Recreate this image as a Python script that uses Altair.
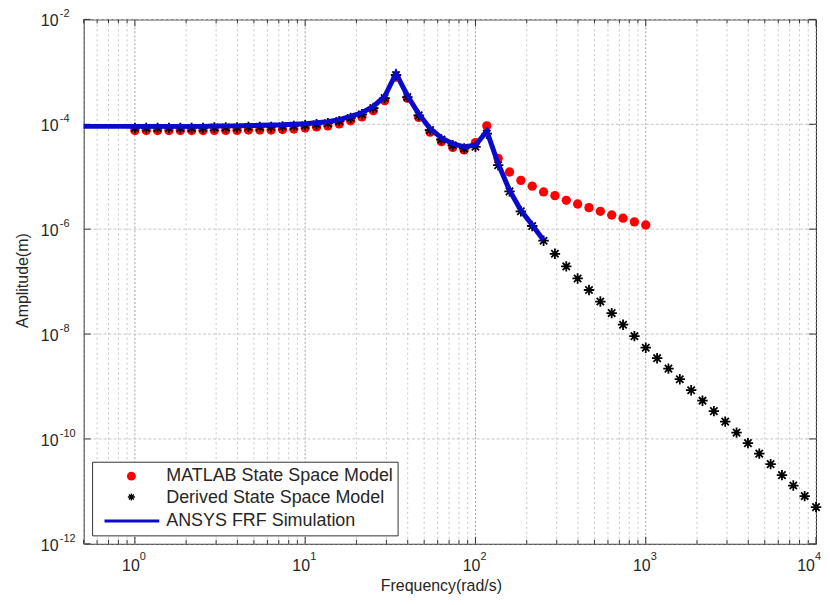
import altair as alt
import pandas as pd

# ---------------- data ----------------
freq = [1.0, 1.166, 1.359, 1.585, 1.848, 2.154, 2.512, 2.929, 3.415, 3.981,
        4.642, 5.412, 6.310, 7.356, 8.577, 10.0, 11.66, 13.59, 15.85, 18.48,
        21.54, 25.12, 29.29, 34.15, 39.81, 46.42, 54.12, 63.10, 73.56, 85.77,
        100.0, 116.6, 135.9, 158.5, 184.8, 215.4, 251.2, 292.9, 341.5, 398.1,
        464.2, 541.2, 631.0, 735.6, 857.7, 1000.0, 1166.0, 1359.0, 1585.0, 1848.0,
        2154.0, 2512.0, 2929.0, 3415.0, 3981.0, 4642.0, 5412.0, 6310.0, 7356.0, 8577.0,
        10000.0]

matlab_amp = [7.59e-5, 7.59e-5, 7.59e-5, 7.59e-5, 7.59e-5, 7.59e-5, 7.59e-5, 7.67e-5, 7.67e-5, 7.67e-5,
              7.76e-5, 7.76e-5, 7.76e-5, 7.94e-5, 8.13e-5, 8.51e-5, 8.91e-5, 9.33e-5, 1.02e-4, 1.17e-4,
              1.38e-4, 1.82e-4, 2.82e-4, 7.94e-4, 3.16e-4, 1.35e-4, 7.08e-5, 4.68e-5, 3.63e-5, 3.24e-5,
              4.47e-5, 9.33e-5, 2.24e-5, 1.23e-5, 8.51e-6, 6.61e-6, 5.13e-6, 4.37e-6, 3.55e-6, 3.02e-6,
              2.57e-6, 2.19e-6, 1.86e-6, 1.62e-6, 1.38e-6, 1.20e-6]

derived_amp = [8.51e-5, 8.51e-5, 8.51e-5, 8.51e-5, 8.51e-5, 8.51e-5, 8.51e-5, 8.71e-5, 8.71e-5, 8.71e-5,
               8.91e-5, 8.91e-5, 8.91e-5, 9.12e-5, 9.33e-5, 9.55e-5, 1.00e-4, 1.05e-4, 1.15e-4, 1.32e-4,
               1.55e-4, 2.04e-4, 3.16e-4, 8.71e-4, 3.31e-4, 1.48e-4, 7.76e-5, 5.13e-5, 3.98e-5, 3.47e-5,
               3.72e-5, 6.61e-5, 1.66e-5, 5.25e-6, 2.19e-6, 1.15e-6, 6.03e-7, 3.39e-7, 1.95e-7, 1.15e-7,
               6.92e-8, 4.17e-8, 2.51e-8, 1.51e-8, 9.12e-9, 5.50e-9, 3.47e-9, 2.19e-9, 1.38e-9, 8.51e-10,
               5.37e-10, 3.39e-10, 2.14e-10, 1.32e-10, 8.32e-11, 5.25e-11, 3.31e-11, 2.04e-11, 1.29e-11, 8.13e-12,
               5.01e-12]

ansys_freq = [0.5] + freq[:37]
ansys_amp = [9.12e-5,
             9.12e-5, 9.12e-5, 9.12e-5, 9.12e-5, 9.12e-5, 9.12e-5, 9.12e-5, 9.23e-5, 9.33e-5, 9.33e-5,
             9.44e-5, 9.55e-5, 9.66e-5, 9.77e-5, 1.00e-4, 1.023e-4, 1.07e-4, 1.12e-4, 1.23e-4, 1.41e-4,
             1.66e-4, 2.19e-4, 3.39e-4, 9.33e-4, 3.55e-4, 1.58e-4, 8.32e-5, 5.50e-5, 4.27e-5, 3.72e-5,
             3.98e-5, 7.41e-5, 1.78e-5, 5.50e-6, 2.29e-6, 1.20e-6, 6.17e-7]

x_minor = [0.5, 0.6, 0.7, 0.8, 0.9,
           2, 3, 4, 5, 6, 7, 8, 9,
           20, 30, 40, 50, 60, 70, 80, 90,
           200, 300, 400, 500, 600, 700, 800, 900,
           2000, 3000, 4000, 5000, 6000, 7000, 8000, 9000]
x_major = [1, 10, 100, 1000, 10000]
x_major_exp = ["0", "1", "2", "3", "4"]
y_major = [1e-12, 1e-10, 1e-8, 1e-6, 1e-4, 1e-2]
y_major_exp = ["-12", "-10", "-8", "-6", "-4", "-2"]
legend_labels = ["MATLAB State Space Model", "Derived State Space Model", "ANSYS FRF Simulation"]

# ---------------- styling ----------------
W, H = 736, 527
FONT = "Liberation Sans"
TXT = "#262626"
RED = "#ff0000"
BLUE = "#0a0acc"
ASTER = "M-1,0L1,0M0,-1L0,1M-0.7,-0.7L0.7,0.7M-0.7,0.7L0.7,-0.7"

xscale = alt.Scale(type="log", domain=[0.5, 10000], nice=False)
yscale = alt.Scale(type="log", domain=[1e-12, 1e-2], nice=False)
xaxis = alt.Axis(title="Frequency(rad/s)", labels=False, ticks=False, grid=False, domain=False,
                 titleFont=FONT, titleFontSize=16, titleFontWeight="normal", titleColor=TXT,
                 titleX=359, titleY=42, titleAlign="center", titleBaseline="middle")
yaxis = alt.Axis(title="Amplitude(m)", labels=False, ticks=False, grid=False, domain=False,
                 titleFont=FONT, titleFontSize=16, titleFontWeight="normal", titleColor=TXT,
                 titleX=-61, titleY=262, titleAlign="center", titleBaseline="middle", titleAngle=270)


def xenc(field):
    return alt.X(f"{field}:Q", scale=xscale, axis=xaxis)


def yenc(field):
    return alt.Y(f"{field}:Q", scale=yscale, axis=yaxis)


df_red = pd.DataFrame({"f": freq[:len(matlab_amp)], "a": matlab_amp})
df_star = pd.DataFrame({"f": freq, "a": derived_amp})
df_blue = pd.DataFrame({"f": ansys_freq, "a": ansys_amp})
df_xminor = pd.DataFrame({"v": x_minor})
df_xmajor = pd.DataFrame({"v": x_major, "e": x_major_exp})
df_xlab_in = df_xmajor.iloc[:-1]
df_xlab_last = df_xmajor.iloc[-1:]
df_ymajor = pd.DataFrame({"v": y_major, "e": y_major_exp})
one = alt.Data(values=[{}])

# grid
grid_xminor = alt.Chart(df_xminor).mark_rule(color="#c6c6c6", strokeDash=[2, 3], strokeWidth=1).encode(
    x=xenc("v"), y=alt.value(0), y2=alt.value(H))
grid_xmajor = alt.Chart(df_xmajor).mark_rule(color="#a0a0a0", strokeDash=[2, 2], strokeWidth=1).encode(
    x=xenc("v"), y=alt.value(0), y2=alt.value(H))
grid_y = alt.Chart(df_ymajor).mark_rule(color="#c6c6c6", strokeDash=[3, 2], strokeWidth=1).encode(
    y=yenc("v"), x=alt.value(0), x2=alt.value(W))

# inward ticks
tick_color = "#333333"
ticks = [
    alt.Chart(df_xminor).mark_rule(color=tick_color).encode(x=xenc("v"), y=alt.value(H), y2=alt.value(H - 4)),
    alt.Chart(df_xminor).mark_rule(color=tick_color).encode(x=xenc("v"), y=alt.value(0), y2=alt.value(4)),
    alt.Chart(df_xmajor).mark_rule(color=tick_color).encode(x=xenc("v"), y=alt.value(H), y2=alt.value(H - 7)),
    alt.Chart(df_xmajor).mark_rule(color=tick_color).encode(x=xenc("v"), y=alt.value(0), y2=alt.value(7)),
    alt.Chart(df_ymajor).mark_rule(color=tick_color).encode(y=yenc("v"), x=alt.value(0), x2=alt.value(7)),
    alt.Chart(df_ymajor).mark_rule(color=tick_color).encode(y=yenc("v"), x=alt.value(W), x2=alt.value(W - 7)),
]

# data series
red = alt.Chart(df_red).mark_circle(size=88, color=RED, opacity=1).encode(x=xenc("f"), y=yenc("a"))
stars = alt.Chart(df_star).mark_point(shape=ASTER, filled=False, color="black", size=110,
                                      strokeWidth=1.8, opacity=1).encode(x=xenc("f"), y=yenc("a"))
blue = alt.Chart(df_blue).mark_line(color=BLUE, strokeWidth=5).encode(x=xenc("f"), y=yenc("a"))


# tick labels (10 with superscript exponent)
def xlabels(df, shift):
    base = alt.Chart(df).mark_text(font=FONT, fontSize=16, color=TXT, align="center",
                                   baseline="middle", dx=-4 + shift).encode(
        x=xenc("v"), y=alt.value(H + 22), text=alt.value("10"))
    exp = alt.Chart(df).mark_text(font=FONT, fontSize=11, color=TXT, align="left",
                                  baseline="middle", dx=5 + shift).encode(
        x=xenc("v"), y=alt.value(H + 13), text="e:N")
    return [base, exp]


yl_base = alt.Chart(df_ymajor).mark_text(font=FONT, fontSize=16, color=TXT, align="left",
                                         baseline="middle", dy=2).encode(
    y=yenc("v"), x=alt.value(-43), text=alt.value("10"))
yl_exp = alt.Chart(df_ymajor).mark_text(font=FONT, fontSize=11, color=TXT, align="left",
                                        baseline="middle", dy=-5).encode(
    y=yenc("v"), x=alt.value(-24), text="e:N")

# legend
leg_box = alt.Chart(one).mark_rect(fill="white", stroke="#333333", strokeWidth=1).encode(
    x=alt.value(9), x2=alt.value(316), y=alt.value(445), y2=alt.value(519))
leg_dot = alt.Chart(one).mark_circle(size=80, color=RED, opacity=1).encode(x=alt.value(48), y=alt.value(459))
leg_star = alt.Chart(one).mark_point(shape=ASTER, filled=False, color="black", size=50,
                                     strokeWidth=1.4, opacity=1).encode(x=alt.value(48), y=alt.value(480))
leg_line = alt.Chart(one).mark_rule(color=BLUE, strokeWidth=3).encode(
    x=alt.value(21), x2=alt.value(76), y=alt.value(504))
leg_texts = [
    alt.Chart(one).mark_text(font=FONT, fontSize=18, color=TXT, align="left", baseline="middle").encode(
        x=alt.value(83), y=alt.value(yy), text=alt.value(lab))
    for lab, yy in zip(legend_labels, [459, 481, 504])
]

chart = alt.layer(
    grid_xminor, grid_xmajor, grid_y, *ticks,
    red, stars, blue,
    *xlabels(df_xlab_in, 0), *xlabels(df_xlab_last, -6), yl_base, yl_exp,
    leg_box, leg_dot, leg_star, leg_line, *leg_texts,
).properties(
    width=W, height=H,
    autosize=alt.AutoSizeParams(type="none"),
    padding={"left": 76, "top": 10, "right": 6, "bottom": 56},
    background="white",
).configure_view(stroke="#262626", strokeWidth=1)

chart.save("out.html", embed_options={"renderer": "svg", "actions": False})
